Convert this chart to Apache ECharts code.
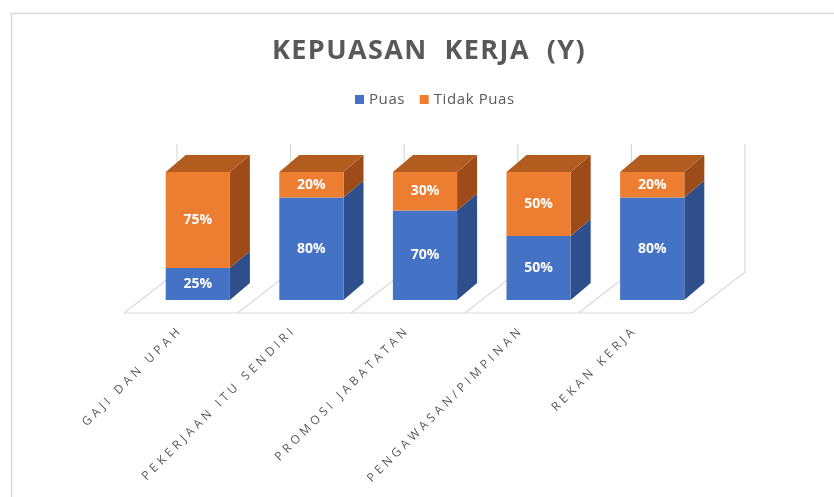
<!DOCTYPE html>
<html>
<head>
<meta charset="utf-8">
<script src="https://cdn.jsdelivr.net/npm/echarts@6/dist/echarts.min.js"></script>
<style>
  html, body { margin: 0; padding: 0; background: #ffffff; }
  #chart { width: 834px; height: 497px; }
</style>
</head>
<body>
<div id="chart"></div>
<script>
// ---- Data ----
const categories = ['GAJI DAN UPAH', 'PEKERJAAN ITU SENDIRI', 'PROMOSI JABATATAN', 'PENGAWASAN/PIMPINAN', 'REKAN KERJA'];
const puas = [25, 80, 70, 50, 80];
const tidakPuas = [75, 20, 30, 50, 20];
const seriesNames = ['Puas', 'Tidak Puas'];

// letter spacing support: fonts whose family list contains "lsNN" get NN/10 px spacing
(function () {
  const proto = CanvasRenderingContext2D.prototype;
  if (!('letterSpacing' in proto)) return;
  const orig = proto.fillText;
  proto.fillText = function (t, x, y, mw) {
    const m = /ls(\d+)/.exec(this.font);
    const prev = this.letterSpacing;
    this.letterSpacing = m ? (m[1] / 10) + 'px' : '0px';
    const r = mw === undefined ? orig.call(this, t, x, y) : orig.call(this, t, x, y, mw);
    this.letterSpacing = prev;
    return r;
  };
})();

const BAR_OFF = [17, -13];   // bar front plane relative to floor front
const BAR_DEPTH = [20, -17]; // bar depth
const BACK_OFF = [53, -41];  // back wall relative to floor front
const GRID_COLOR = '#d9d9d9';

const colors = {
  Puas: { front: '#4472C4', top: '#3A64B0', side: '#2F4F8C' },
  'Tidak Puas': { front: '#ED7D31', top: '#B35C20', side: '#9C4B19' }
};

function makeBarRender(name, isTop) {
  return function (params, api) {
    const i = api.value(0), base = api.value(1), val = api.value(2);
    const p0 = api.coord([i, base]);
    const p1 = api.coord([i, base + val]);
    const band = api.size([1, 0])[0];
    const w = band * 0.565;
    const x0 = p0[0] - w / 2 + BAR_OFF[0], x1 = x0 + w;
    const yb = p0[1] + BAR_OFF[1], yt = p1[1] + BAR_OFF[1];
    const dx = BAR_DEPTH[0], dy = BAR_DEPTH[1];
    const c = colors[name];
    const children = [
      { type: 'polygon', shape: { points: [[x1, yb], [x1, yt], [x1 + dx, yt + dy], [x1 + dx, yb + dy]] }, style: { fill: c.side } },
      { type: 'rect', shape: { x: x0, y: yt, width: w, height: yb - yt }, style: { fill: c.front } }
    ];
    if (isTop) {
      children.push({ type: 'polygon', shape: { points: [[x0, yt], [x1, yt], [x1 + dx, yt + dy], [x0 + dx, yt + dy]] }, style: { fill: c.top } });
    }
    children.push({
      type: 'text',
      style: {
        text: val + '%', x: (x0 + x1) / 2, y: (yt + yb) / 2,
        align: 'center', verticalAlign: 'middle',
        fill: '#ffffff', font: 'bold 14px "Open Sans"'
      }
    });
    return { type: 'group', children: children };
  };
}

function floorRender(params, api) {
  const i = api.value(0);
  const cs = params.coordSys;
  const band = api.size([1, 0])[0];
  const c = api.coord([i, 0]);
  const topY = api.coord([i, 100])[1] + BACK_OFF[1];
  const lineStyle = { stroke: GRID_COLOR, lineWidth: 1.2, fill: null };
  const children = [];
  const bounds = [c[0] - band / 2];
  if (i === categories.length - 1) bounds.push(c[0] + band / 2);
  bounds.forEach(function (bx) {
    children.push({ type: 'polyline', shape: { points: [[bx, c[1]], [bx + BACK_OFF[0], c[1] + BACK_OFF[1]], [bx + BACK_OFF[0], topY]] }, style: lineStyle });
  });
  if (i === 0) {
    children.push({ type: 'line', shape: { x1: cs.x, y1: c[1], x2: cs.x + cs.width, y2: c[1] }, style: lineStyle });
  }
  return { type: 'group', children: children };
}

const chart = echarts.init(document.getElementById('chart'), null, { renderer: 'canvas' });
chart.setOption({
  animation: false,
  backgroundColor: '#ffffff',
  title: {
    text: 'KEPUASAN  KERJA  (Y)',
    left: 272,
    top: 38,
    padding: 0,
    textStyle: { fontFamily: '"Open Sans", ls14', fontWeight: 'bold', fontSize: 27, color: '#595959' }
  },
  legend: {
    top: 92,
    left: 355,
    padding: 0,
    itemWidth: 9,
    itemHeight: 9,
    itemGap: 17,
    icon: 'rect',
    data: seriesNames,
    textStyle: { fontFamily: '"Open Sans", ls06', fontSize: 15, color: '#595959' }
  },
  graphic: [{
    type: 'rect',
    shape: { x: 11.5, y: 13.5, width: 900, height: 600 },
    style: { fill: null, stroke: '#d9d9d9', lineWidth: 1.6 },
    silent: true
  }],
  grid: { left: 124, right: 142, top: 185, bottom: 184 },
  xAxis: {
    type: 'category',
    data: categories,
    axisLine: { show: false },
    axisTick: { show: false },
    splitLine: { show: false },
    axisLabel: {
      interval: 0, rotate: 45, margin: 15,
      color: '#595959', fontSize: 12, fontFamily: '"Open Sans", ls38'
    }
  },
  yAxis: { type: 'value', min: 0, max: 100, show: false, splitLine: { show: false } },
  series: [
    {
      type: 'custom', name: 'floor', silent: true, z: 1,
      renderItem: floorRender,
      data: categories.map(function (c, i) { return [i]; })
    },
    {
      type: 'custom', name: 'Puas', z: 2,
      itemStyle: { color: colors.Puas.front },
      renderItem: makeBarRender('Puas', false),
      encode: { x: 0, y: 2 },
      data: puas.map(function (v, i) { return [i, 0, v]; })
    },
    {
      type: 'custom', name: 'Tidak Puas', z: 3,
      itemStyle: { color: colors['Tidak Puas'].front },
      renderItem: makeBarRender('Tidak Puas', true),
      encode: { x: 0, y: 2 },
      data: tidakPuas.map(function (v, i) { return [i, puas[i], v]; })
    }
  ]
});
</script>
</body>
</html>
